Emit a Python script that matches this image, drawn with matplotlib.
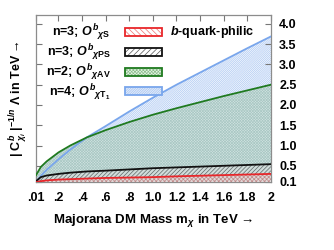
import matplotlib
matplotlib.use("Agg")
import matplotlib.pyplot as plt
from matplotlib.patches import Patch

# dark matter mass (TeV)
m_dm = [0.01, 0.05, 0.1, 0.2, 0.3, 0.44, 0.6, 0.8, 1.0, 1.2, 1.4, 1.6, 1.8, 2.0]

# |C|^(-1/n) Lambda (TeV)
lam_t1 = [0.1, 0.25, 0.4, 0.66, 0.9, 1.2, 1.48, 1.84, 2.18, 2.5, 2.8, 3.1, 3.4, 3.69]
lam_av = [0.27, 0.47, 0.61, 0.83, 1.0, 1.2, 1.38, 1.58, 1.76, 1.92, 2.07, 2.22, 2.36, 2.5]
lam_ps = [0.12, 0.22, 0.26, 0.3, 0.33, 0.36, 0.38, 0.41, 0.44, 0.46, 0.48, 0.5, 0.52, 0.54]
lam_s = [0.1, 0.12, 0.14, 0.16, 0.17, 0.185, 0.2, 0.21, 0.22, 0.24, 0.255, 0.27, 0.285, 0.3]

x_ticks = [0.01, 0.2, 0.4, 0.6, 0.8, 1.0, 1.2, 1.4, 1.6, 1.8, 2.0]
x_labels = [".01", ".2", ".4", ".6", ".8", "1.0", "1.2", "1.4", "1.6", "1.8", "2"]
y_ticks = [0.1, 0.5, 1.0, 1.5, 2.0, 2.5, 3.0, 3.5, 4.0]
y_labels = ["0.1", "0.5", "1.0", "1.5", "2.0", "2.5", "3.0", "3.5", "4.0"]

labels = [
    r"n=3; $\mathit{O}^{b}{}_{\chi\mathrm{S}}$",
    r"n=3; $\mathit{O}^{b}{}_{\chi\mathrm{PS}}$",
    r"n=2; $\mathit{O}^{b}{}_{\chi\mathrm{AV}}$",
    r"n=4; $\mathit{O}^{b}{}_{\chi\mathrm{T}_1}$",
]

plt.rcParams["font.family"] = "Liberation Sans"
plt.rcParams["font.weight"] = "bold"
plt.rcParams["mathtext.fontset"] = "custom"
plt.rcParams["mathtext.rm"] = "Liberation Sans:bold"
plt.rcParams["mathtext.it"] = "Liberation Sans:italic:bold"
plt.rcParams["mathtext.bf"] = "Liberation Sans:bold"
plt.rcParams["hatch.linewidth"] = 0.5

c_red = "#e8262a"
c_black = "#111111"
c_green = "#1f7a1f"
c_blue = "#79a6ec"

fig = plt.figure(figsize=(3.34, 2.5), dpi=100)
ax = fig.add_axes([0.108, 0.272, 0.703, 0.668])

ymin = 0.1
ax.fill_between(m_dm, ymin, lam_t1, facecolor="#f6f9fe", edgecolor="#b0caf2",
                hatch="////////////////", linewidth=0, zorder=1)
ax.fill_between(m_dm, ymin, lam_av, facecolor="#d2e4e2", edgecolor="#aac8c4",
                hatch="xxxxxxxxxxxx", linewidth=0, zorder=2)
ax.fill_between(m_dm, ymin, lam_ps, facecolor="#d0dcda", edgecolor="#606868",
                hatch="////////", linewidth=0, zorder=3)
ax.fill_between(m_dm, ymin, lam_s, facecolor="#e0d8d8", edgecolor="#c08a8a",
                hatch="xxxxxxxx", linewidth=0, zorder=4)

ax.plot(m_dm, lam_t1, color=c_blue, lw=1.3, zorder=5)
ax.plot(m_dm, lam_av, color=c_green, lw=1.3, zorder=6)
ax.plot(m_dm, lam_ps, color=c_black, lw=1.3, zorder=7)
ax.plot(m_dm, lam_s, color=c_red, lw=1.3, zorder=8)


def swatch(face, hatch_col, hatch, edge):
    inner = Patch(facecolor=face, edgecolor=hatch_col, hatch=hatch, lw=0)
    outer = Patch(facecolor="none", edgecolor=edge, lw=1.3)
    return (inner, outer)


handles = [
    swatch("white", "#f07070", "\\\\\\\\\\\\", c_red),
    swatch("white", "#555555", "//////", c_black),
    swatch("#e8f2e8", "#8cc08c", "xxxxxxxxxx", c_green),
    swatch("#e2ecfb", "#a8c4f0", "//////////////", c_blue),
]
leg = ax.legend(handles, labels, loc="upper left", frameon=False,
                markerfirst=False, fontsize=9, handlelength=3.0,
                handleheight=0.6, labelspacing=-0.06, borderaxespad=0.0,
                handletextpad=1.1, bbox_to_anchor=(0.02, 0.985))

ax.text(0.928, 0.9, r"$\mathit{b}$-quark-philic", transform=ax.transAxes,
        ha="right", va="center", fontsize=9, fontweight="bold")

ax.set_xlim(0.01, 2.0)
ax.set_ylim(ymin, 4.22)
ax.set_xticks(x_ticks)
ax.set_xticklabels(x_labels)
ax.set_yticks(y_ticks)
ax.set_yticklabels(y_labels)
ax.tick_params(axis="both", direction="in", length=4, width=0.8,
               color="#777777", labelsize=9, top=True, right=True,
               labelleft=False, labelright=True)
ax.tick_params(axis="x", pad=7)
ax.tick_params(axis="y", pad=6)
for s in ax.spines.values():
    s.set_color("#8c8c8c")
    s.set_linewidth(0.9)

ax.set_xlabel("Majorana DM Mass m$_{\\chi}$ in TeV \u2192",
              fontsize=9.5, fontweight="bold", labelpad=6)
ax.set_ylabel("| C$^{b}_{\\chi_{i}}$ |$^{-1/n}$ \u039b in TeV \u2192",
              fontsize=9, fontweight="bold", labelpad=5)

fig.savefig("out.png", dpi=100)
